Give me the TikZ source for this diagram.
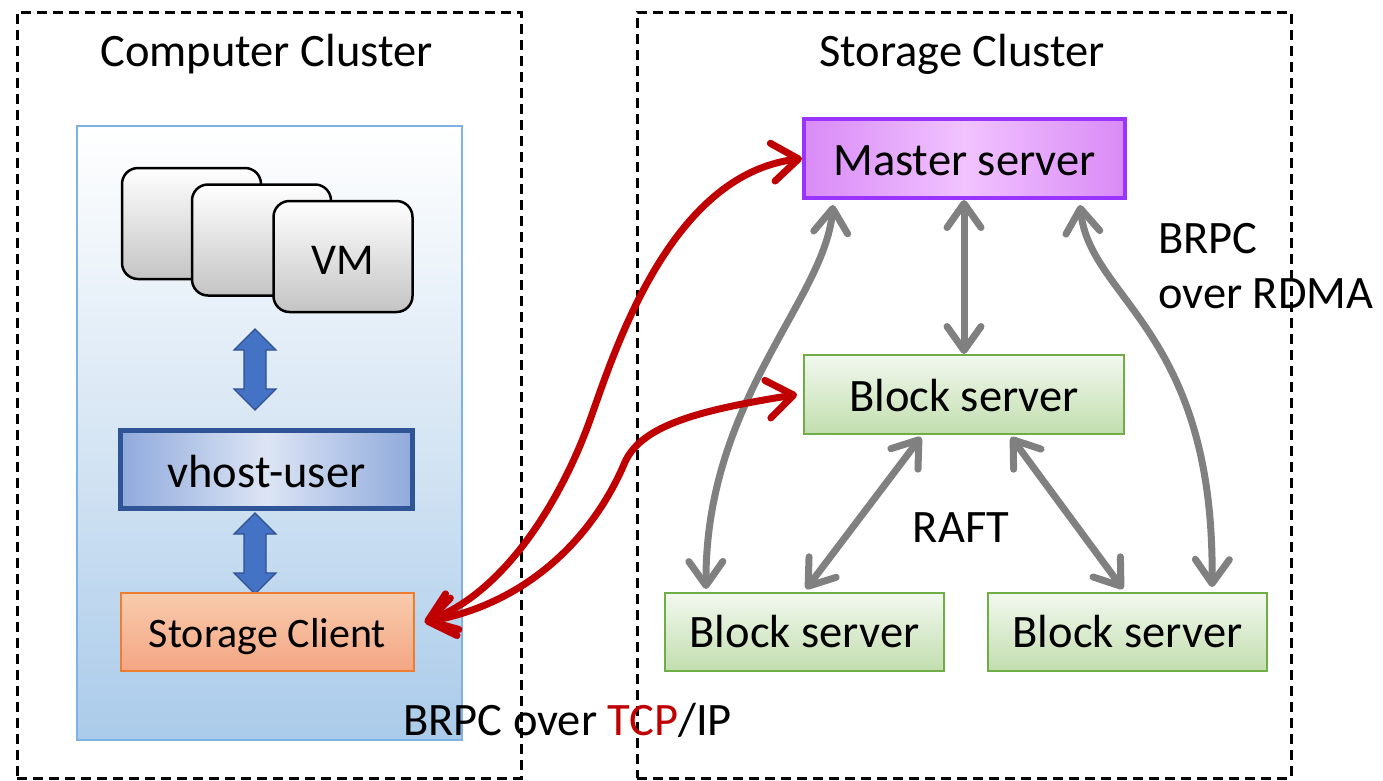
\documentclass[tikz,border=0pt]{standalone}
\usepackage{fontspec}
\setmainfont{Carlito}
\usetikzlibrary{arrows.meta,calc}

\definecolor{panelblue}{HTML}{AACBEA}
\definecolor{panelmid}{HTML}{D7E6F4}
\definecolor{panelline}{HTML}{7FB2E3}
\definecolor{vhostedge}{HTML}{2F5597}
\definecolor{vhostdark}{HTML}{8FAADC}
\definecolor{vhostlight}{HTML}{DDE5F4}
\definecolor{clienttop}{HTML}{F8CBAD}
\definecolor{clientbot}{HTML}{F4A683}
\definecolor{clientline}{HTML}{ED7D31}
\definecolor{masteredge}{HTML}{9933FF}
\definecolor{masterdark}{HTML}{D98AF6}
\definecolor{masterlight}{HTML}{F1C3FF}
\definecolor{blocktop}{HTML}{F2F8EF}
\definecolor{blockbot}{HTML}{C2DEAE}
\definecolor{blockline}{HTML}{70AD47}
\definecolor{linkgray}{HTML}{808080}
\definecolor{linkred}{HTML}{C00000}
\definecolor{fatfill}{HTML}{4472C4}
\definecolor{fatline}{HTML}{2F528F}
\definecolor{cardgray}{HTML}{C4C4C4}

\newcommand\dgfont{\fontsize{46.5pt}{55pt}\selectfont}

\begin{document}
\begin{tikzpicture}[x=1pt,y=-1pt,
  cluster/.style={draw=black, line width=3pt, dash pattern=on 10pt off 6pt,
    rectangle, inner sep=0pt},
  title/.style={font=\dgfont, inner sep=0pt, anchor=base},
  panel/.style={draw=panelline, line width=1.5pt, rectangle, inner sep=0pt,
    top color=white, bottom color=panelblue, middle color=panelmid},
  vmcard/.style={draw=black, line width=2.5pt, rectangle, rounded corners=16pt,
    top color=white, bottom color=cardgray, inner sep=0pt,
    minimum width=139pt, minimum height=111pt,
    font=\fontsize{44pt}{50pt}\selectfont, text depth=0pt, text height=35pt},
  vhostbox/.style={draw=vhostedge, line width=5pt, rectangle, inner sep=0pt,
    left color=vhostdark, right color=vhostdark, middle color=vhostlight,
    font=\dgfont, text depth=0pt, text height=35pt},
  clientbox/.style={draw=clientline, line width=1.3pt, rectangle, inner sep=0pt,
    top color=clienttop, bottom color=clientbot,
    font=\fontsize{42pt}{50pt}\selectfont, text depth=0pt, text height=30pt},
  masterbox/.style={draw=masteredge, line width=4pt, rectangle, inner sep=0pt,
    left color=masterdark, right color=masterdark, middle color=masterlight,
    font=\dgfont, text depth=0pt, text height=33pt},
  blockbox/.style={draw=blockline, line width=2pt, rectangle, inner sep=0pt,
    top color=blocktop, bottom color=blockbot,
    font=\dgfont, text depth=0pt},
  fatarrow/.style={fill=fatfill, draw=fatline, line width=1.2pt, line join=miter},
  graylink/.style={draw=linkgray, line width=7pt, {Straight Barb[length=24pt, width=34pt, round]}-{Straight Barb[length=24pt, width=34pt, round]}},
  redlink/.style={draw=linkred, line width=7pt, line cap=round, {Straight Barb[length=26pt, width=38pt, round]}-{Straight Barb[length=26pt, width=38pt, round]}},
  pics/fatdbl/.style={code={
    \draw[fatarrow] (0,-40.5) -- (21,-19.5) -- (11,-19.5) -- (11,19.5) -- (21,19.5)
      -- (0,40.5) -- (-21,19.5) -- (-11,19.5) -- (-11,-19.5) -- (-21,-19.5) -- cycle;
  }}
]
\useasboundingbox (0,0) rectangle (1383,780);
\fill[white] (0,0) rectangle (1383,780);

% the two clusters
\node[cluster, minimum width=504pt, minimum height=766pt] (cc) at (269,395) {};
\node[cluster, minimum width=654pt, minimum height=766pt] (scl) at (964,395) {};
\node[title] (cct) at (266.5,66) {Computer Cluster};
\node[title] (sct) at (962,66) {Storage Cluster};

% compute side
\node[panel, minimum width=385pt, minimum height=614pt] (pan) at (269.5,433) {};
\node[vmcard] (vm1) at (191.5,223.5) {};
\node[vmcard] (vm2) at (261.5,240) {};
\node[vmcard] (vm3) at (343,256.5) {VM};
\pic at (255,369.5) {fatdbl};
\node[vhostbox, minimum width=292pt, minimum height=78pt] (vh) at (266.5,469.5) {vhost-user};
\pic at (255,553.5) {fatdbl};
\node[clientbox, minimum width=293pt, minimum height=78pt] (sc) at (267.5,632) {Storage Client};

% storage side
\node[masterbox, minimum width=321pt, minimum height=79pt] (ms) at (964.5,158.5) {Master server};
\node[blockbox, minimum width=320pt, minimum height=79pt, text height=33pt] (bt) at (964,394.5) {Block server};
\node[blockbox, minimum width=279pt, minimum height=78pt, text height=30pt] (bl) at (804.5,632) {Block server};
\node[blockbox, minimum width=279pt, minimum height=78pt, text height=30pt] (br) at (1127.5,632) {Block server};

\node[font=\dgfont, inner sep=0pt, anchor=base] (raft) at (961,542) {RAFT};
\node[font=\dgfont, inner sep=0pt, anchor=base west, align=left] (rdma) at (1158,308) {BRPC\\over RDMA};
\node[font=\dgfont, inner sep=0pt, anchor=base west] (tcp) at (403,735) {BRPC over \textcolor{linkred}{TCP}/IP};

% master and block server links
\draw[graylink] (ms.south -| bt.north) -- (bt.north);
\draw[graylink] ($(ms.south west)+(31,5)$) .. controls (825,300) and (705,400) .. ($(bl.north west)+(42,-3)$);
\draw[graylink] ($(ms.south east)+(-47,5)$) .. controls (1090,300) and (1215,330) .. ($(br.north west)+(225,-5)$);
\draw[graylink] ($(bt.south west)+(118,2)$) -- ($(bl.north west)+(142,-3)$);
\draw[graylink] ($(bt.south west)+(208,2)$) -- ($(br.north west)+(136,-3)$);

% client links
\coordinate (scr) at ($(sc.east)+(10,-10)$);
\draw[redlink] (scr) .. controls (510,590) and (565,490) .. (590,420)
  .. controls (615,350) and (670,175) .. (ms.west);
\draw[redlink] (scr) .. controls (520,605) and (590,545) .. (625,462)
  .. controls (642,425) and (700,410) .. ($(bt.west)+(-6,0)$);
\end{tikzpicture}
\end{document}
